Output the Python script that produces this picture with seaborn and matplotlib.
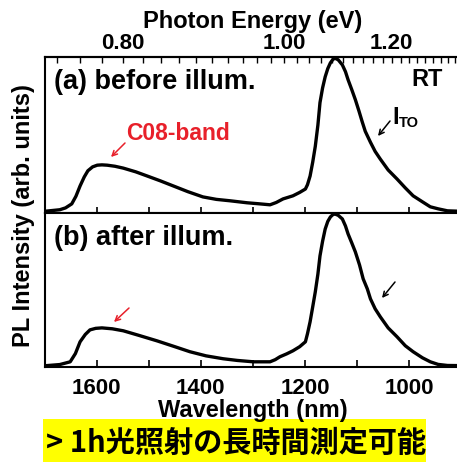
import numpy as np
import pandas as pd
import matplotlib
matplotlib.use('Agg')
import matplotlib.pyplot as plt
import seaborn as sns
from matplotlib.patches import Rectangle
from matplotlib.ticker import FixedLocator

# ---- data ----
wavelength_a = [1700, 1671, 1660, 1648, 1640, 1632, 1624, 1617, 1608, 1599, 1590, 1580,
                1565, 1549, 1525, 1503, 1478, 1453, 1425, 1396, 1370, 1344, 1311, 1290,
                1267, 1255, 1242, 1223, 1210, 1199, 1195, 1190, 1185, 1180, 1175, 1171,
                1166, 1161, 1156, 1151, 1146, 1142, 1136, 1128, 1122, 1117, 1110, 1103,
                1096, 1090, 1084, 1074, 1065, 1055, 1040, 1023, 1007, 992, 974, 959,
                944, 926, 900]
intensity_a = [0.003, 0.013, 0.025, 0.051, 0.100, 0.167, 0.225, 0.265, 0.290, 0.301, 0.303, 0.301,
               0.294, 0.282, 0.258, 0.231, 0.200, 0.167, 0.130, 0.096, 0.080, 0.071, 0.058, 0.052,
               0.045, 0.060, 0.083, 0.103, 0.125, 0.147, 0.175, 0.231, 0.320, 0.423, 0.560, 0.705,
               0.800, 0.872, 0.925, 0.962, 0.985, 0.992, 0.982, 0.949, 0.905, 0.853, 0.790, 0.724,
               0.650, 0.583, 0.520, 0.449, 0.390, 0.340, 0.270, 0.212, 0.154, 0.103, 0.064, 0.032,
               0.019, 0.006, 0.003]

wavelength_b = [1700, 1671, 1651, 1641, 1632, 1622, 1613, 1602, 1590, 1570, 1549, 1520,
                1484, 1450, 1421, 1390, 1357, 1330, 1299, 1267, 1257, 1248, 1235, 1223,
                1210, 1199, 1195, 1190, 1185, 1180, 1175, 1171, 1166, 1161, 1156, 1151,
                1146, 1142, 1136, 1128, 1122, 1117, 1110, 1103, 1095, 1088, 1080, 1074,
                1065, 1055, 1040, 1023, 1007, 992, 974, 959, 944, 926, 900]
intensity_b = [0.000, 0.008, 0.026, 0.080, 0.157, 0.205, 0.235, 0.245, 0.248, 0.242, 0.229, 0.200,
               0.163, 0.125, 0.092, 0.065, 0.046, 0.035, 0.026, 0.026, 0.040, 0.059, 0.078, 0.098,
               0.125, 0.157, 0.210, 0.288, 0.385, 0.484, 0.600, 0.719, 0.815, 0.895, 0.945, 0.974,
               0.990, 0.993, 0.985, 0.961, 0.915, 0.863, 0.805, 0.745, 0.660, 0.569, 0.503, 0.438,
               0.373, 0.320, 0.248, 0.190, 0.131, 0.092, 0.052, 0.026, 0.009, 0.002, 0.001]

wl_major = [1600, 1400, 1200, 1000]
wl_major_labels = ['1600', '1400', '1200', '1000']
wl_minor = [1700, 1500, 1300, 1100, 900]
ev_major = [0.80, 1.00, 1.20]
ev_major_labels = ['0.80', '1.00', '1.20']
ev_minor = [0.74, 0.76, 0.78, 0.82, 0.84, 0.86, 0.88, 0.90, 0.92, 0.94, 0.96, 0.98,
            1.02, 1.04, 1.06, 1.08, 1.10, 1.12, 1.14, 1.16, 1.18, 1.22, 1.24, 1.26,
            1.28, 1.30, 1.32, 1.34, 1.36]
HC = 1239.84

df_a = pd.DataFrame({'Wavelength': wavelength_a, 'Intensity': intensity_a})
df_b = pd.DataFrame({'Wavelength': wavelength_b, 'Intensity': intensity_b})

sns.set_style('ticks')
plt.rcParams['font.family'] = ['Liberation Sans', 'DejaVu Sans']
plt.rcParams['font.weight'] = 'bold'
plt.rcParams['axes.labelweight'] = 'bold'
plt.rcParams['axes.edgecolor'] = 'black'
plt.rcParams['text.color'] = 'black'
plt.rcParams['axes.labelcolor'] = 'black'
plt.rcParams['xtick.color'] = 'black'
plt.rcParams['ytick.color'] = 'black'

W, H = 457, 462
fig = plt.figure(figsize=(W / 100, H / 100), dpi=100)

def fx(x):
    return x / W

def fy(y):
    return 1 - y / H

L, R = 44.7, 461.0
ax_a = fig.add_axes([fx(L), fy(213), (R - L) / W, 156 / H])
ax_b = fig.add_axes([fx(L), fy(367), (R - L) / W, 154 / H])

for ax, df in ((ax_a, df_a), (ax_b, df_b)):
    sns.lineplot(data=df, x='Wavelength', y='Intensity', ax=ax, color='black',
                 lw=2.4, legend=False)
    ax.set_xlim(1700, 900)
    ax.set_ylim(-0.008, 1.0)
    ax.set_yticks([])
    ax.set_ylabel('')
    ax.set_xlabel('')
    for s in ax.spines.values():
        s.set_linewidth(1.5)
        s.set_color('black')
    ax.xaxis.set_major_locator(FixedLocator(wl_major))
    ax.xaxis.set_minor_locator(FixedLocator(wl_minor))

# top panel: bottom ticks straddle the shared border, no labels
ax_a.set_xticklabels([])
ax_a.tick_params(axis='x', which='both', direction='inout', length=9, width=1.2,
                 top=False, bottom=True)

# bottom panel: wavelength axis
ax_b.set_xticklabels(wl_major_labels)
ax_b.tick_params(axis='x', which='both', direction='in', length=5, width=1.2,
                 top=False, bottom=True, pad=8, labelsize=16)
ax_b.set_xlabel('Wavelength (nm)', fontsize=17, labelpad=0)

# top photon-energy axis
def wl_to_ev(x):
    x = np.asarray(x, dtype=float)
    with np.errstate(divide='ignore', invalid='ignore'):
        return HC / x

sec = ax_a.secondary_xaxis('top', functions=(wl_to_ev, wl_to_ev))
sec.set_xticks(ev_major)
sec.set_xticklabels(ev_major_labels)
sec.xaxis.set_minor_locator(FixedLocator(ev_minor))
sec.tick_params(axis='x', which='both', direction='in', length=4, width=1.0,
                pad=2, labelsize=16)
sec.set_xlabel('Photon Energy (eV)', fontsize=17, labelpad=4)
sec.spines['top'].set_linewidth(1.5)

fig.text(fx(24), fy(216), 'PL Intensity (arb. units)', rotation=90,
         ha='center', va='center', fontsize=17)

# panel annotations
fig.text(fx(54), fy(82), '(a) before illum.', ha='left', va='center', fontsize=19.5)
fig.text(fx(54), fy(238), '(b) after illum.', ha='left', va='center', fontsize=19.5)
fig.text(fx(411), fy(80), 'RT', ha='left', va='center', fontsize=17)
fig.text(fx(392), fy(117), 'I', ha='left', va='center', fontsize=17)
fig.text(fx(399), fy(123), 'TO', ha='left', va='center', fontsize=10.5)
red = '#e8202a'
fig.text(fx(126), fy(133), 'C08-band', ha='left', va='center', fontsize=16.5, color=red)

arrows = [((125, 143), (111, 157), red), ((390, 121), (378, 136), 'black'),
          ((129, 308), (114, 322), red), ((395, 282), (382, 298), 'black')]
for (x0, y0), (x1, y1), c in arrows:
    fig.add_artist(plt.Annotation('', xy=(x1, H - y1), xytext=(x0, H - y0),
                                  xycoords='figure pixels', textcoords='figure pixels',
                                  arrowprops=dict(arrowstyle='->', color=c, lw=1.1,
                                                  shrinkA=0, shrinkB=0,
                                                  mutation_scale=9)))

# yellow banner
fig.add_artist(Rectangle((fx(43), 0), (426 - 43) / W, (H - 419) / H,
                         transform=fig.transFigure, facecolor='#ffff00',
                         edgecolor='none', zorder=0))
fig.text(fx(46), fy(443), '> 1h光照射の長時間測定可能', ha='left', va='center',
         fontsize=21, weight='bold', family=['Noto Sans CJK JP', 'DejaVu Sans'])

fig.savefig('out.png', dpi=100)
